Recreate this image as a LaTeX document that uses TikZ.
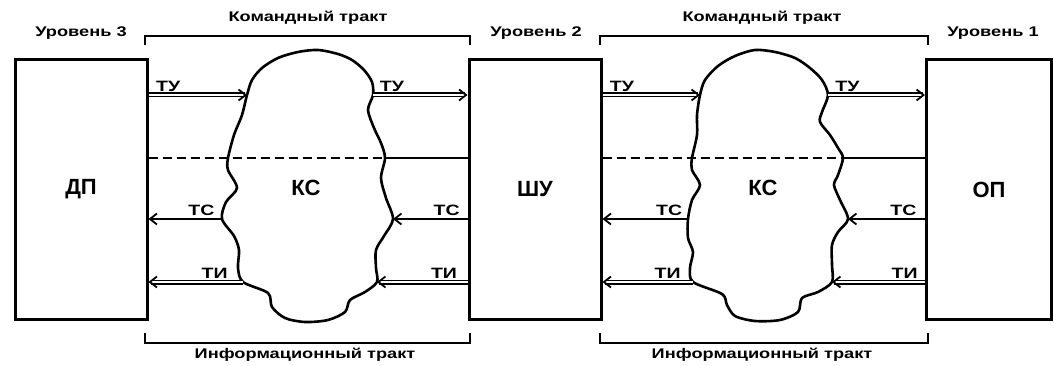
\documentclass[tikz,border=0pt]{standalone}
\usepackage{fontspec}
\setmainfont{Liberation Sans}
\newfontfamily\widefont[FakeStretch=1.3]{Liberation Sans}
\usetikzlibrary{arrows.meta,positioning}

\begin{document}
\begin{tikzpicture}[x=1pt,y=-1pt,node distance=454pt,
  box/.style={draw,line width=3pt,minimum width=132pt,minimum height=259pt,font=\fontsize{22}{26}\selectfont\bfseries},
  kc/.style={font=\fontsize{22}{26}\selectfont\bfseries},
  txt/.style={font=\widefont\fontsize{14}{16}\selectfont\bfseries,inner sep=0pt},
  lbl/.style={font=\widefont\fontsize{15}{17}\selectfont\bfseries,above=3pt,inner sep=0pt},
  dbl/.style={double,double distance=2pt,line width=1.5pt,-{Straight Barb[length=7pt,width=11pt,line width=1.8pt]}},
  sgl/.style={line width=1.6pt,-{Straight Barb[length=7pt,width=11pt,line width=1.8pt]}},
  dashline/.style={line width=2pt,dash pattern=on 9pt off 5pt},
  solidline/.style={line width=2pt},
  cloudline/.style={line width=2.6pt,line join=round},
  trakt/.style={line width=1.6pt}]
\useasboundingbox (0,0) rectangle (1054,366);

\node[box] (dp) at (81,189.5) {ДП};
\node[box] (shu) [right of=dp] {ШУ};
\node[box,minimum width=125pt] (op) [right of=shu] {ОП};

\coordinate (c1tu) at (247,95);
\coordinate (c1tuo) at (373,95);
\coordinate (c1d) at (385,158);
\coordinate (c1tc) at (393,219);
\coordinate (c1ti) at (377,282);
\coordinate (c1tio) at (243,282);
\coordinate (c1tco) at (222,219);
\draw[cloudline] plot[smooth cycle,tension=.5] coordinates {(c1tu) (252,80) (262,68) (278,58) (298,52) (318,50) (338,54) (352,60) (364,70) (372,82) (c1tuo) (368,110) (374,128) (381,143) (c1d) (381,178) (386,198) (c1tc) (384,236) (376,250) (376,268) (c1ti) (365,292) (350,300) (345,312) (328,320) (305,322) (285,318) (272,307) (268,293) (c1tio) (238,268) (239,250) (234,236) (c1tco) (226,202) (237,188) (228,170) (228,158) (234,135) (242,115)};

\coordinate (c2tu) at (700,95);
\coordinate (c2tuo) at (828,95);
\coordinate (c2d) at (843,158);
\coordinate (c2tc) at (848,219);
\coordinate (c2ti) at (832,282);
\coordinate (c2tio) at (693,282);
\coordinate (c2tco) at (688,219);
\draw[cloudline] plot[smooth cycle,tension=.5] coordinates {(c2tu) (705,80) (718,66) (735,56) (755,50) (775,52) (795,58) (810,68) (822,80) (c2tuo) (822,112) (820,122) (830,135) (838,148) (c2d) (838,175) (834,185) (840,200) (c2tc) (838,232) (832,245) (832,265) (c2ti) (818,292) (802,298) (798,312) (780,320) (755,321) (735,316) (727,305) (722,294) (c2tio) (690,268) (693,252) (688,238) (c2tco) (692,200) (700,185) (692,170) (692,158) (697,135) (697,115)};

\node[kc] (kc1) at (306,188) {КС};
\node[kc] (kc2) at (763,188) {КС};

\draw[dbl] (dp.east |- c1tu) -- node[lbl,pos=.2] (tu1) {ТУ} (c1tu);
\draw[dbl] (c1tuo) -- node[lbl,pos=.2] (tu2) {ТУ} (shu.west |- c1tuo);
\draw[dbl] (shu.east |- c2tu) -- node[lbl,pos=.2] (tu3) {ТУ} (c2tu);
\draw[dbl] (c2tuo) -- node[lbl,pos=.2] (tu4) {ТУ} (op.west |- c2tuo);

\draw[dashline] (dp.east |- c1d) -- (c1d);
\draw[solidline] (c1d) -- (shu.west |- c1d);
\draw[dashline] (shu.east |- c2d) -- (c2d);
\draw[solidline] (c2d) -- (op.west |- c2d);

\draw[sgl] (c1tco) -- node[lbl,pos=.28] (tc1) {ТС} (dp.east |- c1tco);
\draw[sgl] (shu.west |- c1tc) -- node[lbl,pos=.28] (tc2) {ТС} (c1tc);
\draw[sgl] (c2tco) -- node[lbl,pos=.22] (tc3) {ТС} (shu.east |- c2tco);
\draw[sgl] (op.west |- c2tc) -- node[lbl,pos=.28] (tc4) {ТС} (c2tc);

\draw[dbl] (c1tio) -- node[lbl,pos=.3] (ti1) {ТИ} (dp.east |- c1tio);
\draw[dbl] (shu.west |- c1ti) -- node[lbl,pos=.26] (ti2) {ТИ} (c1ti);
\draw[dbl] (c2tio) -- node[lbl,pos=.28] (ti3) {ТИ} (shu.east |- c2tio);
\draw[dbl] (op.west |- c2ti) -- node[lbl,pos=.22] (ti4) {ТИ} (c2ti);

\draw[trakt] (145,45) -- (145,36) -- (470,36) -- (470,45);
\draw[trakt] (600,45) -- (600,36) -- (928,36) -- (928,45);
\draw[trakt] (145,333) -- (145,343) -- (470,343) -- (470,333);
\draw[trakt] (600,333) -- (600,343) -- (928,343) -- (928,333);

\node[txt] (cmd1) at (308,18) {Командный тракт};
\node[txt] (cmd2) at (762,18) {Командный тракт};
\node[txt] (inf1) at (305,355) {Информационный тракт};
\node[txt] (inf2) at (762,355) {Информационный тракт};
\node[txt] (lvl3) at (81,33) {Уровень 3};
\node[txt] (lvl2) at (536,33) {Уровень 2};
\node[txt] (lvl1) at (993,33) {Уровень 1};
\end{tikzpicture}
\end{document}
